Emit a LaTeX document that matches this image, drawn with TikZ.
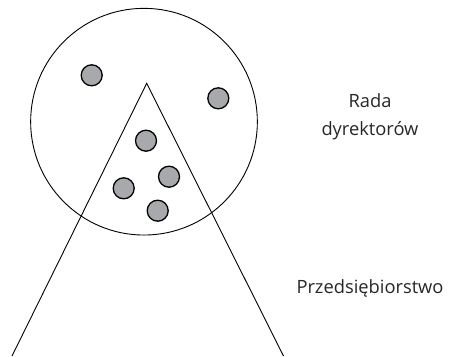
\documentclass[tikz,border=0pt]{standalone}
\usepackage{fontspec}
\setmainfont{Open Sans}
\usepackage{xcolor}
\usetikzlibrary{positioning}

\definecolor{dotgray}{HTML}{A7A9AC}
\definecolor{textgray}{HTML}{262626}

\begin{document}
\begin{tikzpicture}[
  x=1pt, y=-1pt,
  board/.style={draw, circle, line width=0.9pt, minimum size=226.7pt, inner sep=0pt},
  member/.style={draw, circle, fill=dotgray, line width=1.3pt, minimum size=21pt, inner sep=0pt},
  label/.style={text=textgray, font=\fontsize{18.3}{28}\selectfont, align=center}
]
  \useasboundingbox (0,0) rectangle (468,356);

  % rada dyrektorow
  \node[board] (rada) at (144,121.7) {};
  \node[member] (m1) at (91.7,75.3) {};
  \node[member] (m2) at (218.3,98.3) {};
  \node[member] (m3) at (146,140.7) {};
  \node[member] (m4) at (169,176.7) {};
  \node[member] (m5) at (123.7,188.3) {};
  \node[member] (m6) at (157.7,210.7) {};

  % przedsiebiorstwo
  \coordinate (apex) at (146.7,83.3);
  \coordinate (baseL) at (12,356);
  \coordinate (baseR) at (283.5,356);
  \draw[line width=0.9pt] (baseL) -- (apex) -- (baseR);

  \node[label] (radatxt) at (370,117) {Rada\\dyrektorów};
  \node[label] (firmtxt) at (370,288) {Przedsiębiorstwo};
\end{tikzpicture}
\end{document}
